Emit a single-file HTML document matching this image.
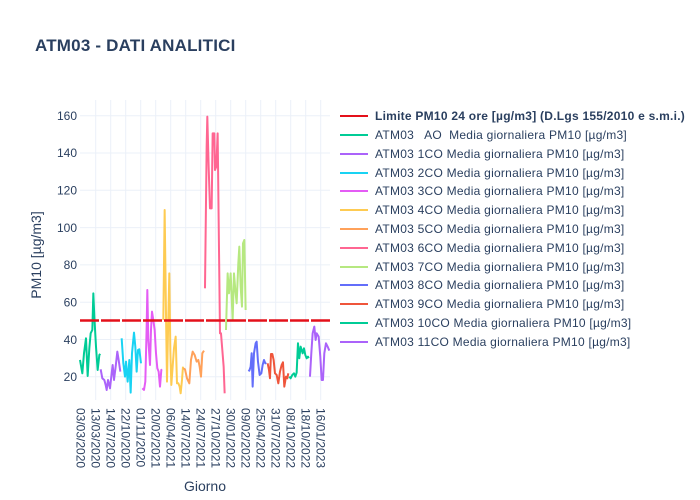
<!DOCTYPE html>
<html><head><meta charset="utf-8"><style>body{margin:0;background:#fff}svg{display:block;font-family:"Liberation Sans",sans-serif}</style></head>
<body>
<svg width="700" height="500" xmlns="http://www.w3.org/2000/svg">
<rect width="700" height="500" fill="#fff"/>
<text x="35" y="51" font-size="17" font-weight="bold" fill="#2a3f5f" letter-spacing="0.2">ATM03 - DATI ANALITICI</text>
<g stroke="#ebf0f8" stroke-width="1">
<line x1="80" x2="330" y1="115.7" y2="115.7"/><line x1="80" x2="330" y1="153" y2="153"/><line x1="80" x2="330" y1="190.3" y2="190.3"/><line x1="80" x2="330" y1="227.6" y2="227.6"/><line x1="80" x2="330" y1="264.9" y2="264.9"/><line x1="80" x2="330" y1="302.2" y2="302.2"/><line x1="80" x2="330" y1="339.5" y2="339.5"/><line x1="80" x2="330" y1="376.7" y2="376.7"/>
<line x1="95.7" x2="95.7" y1="100" y2="400"/><line x1="110.7" x2="110.7" y1="100" y2="400"/><line x1="125.7" x2="125.7" y1="100" y2="400"/><line x1="140.7" x2="140.7" y1="100" y2="400"/><line x1="155.7" x2="155.7" y1="100" y2="400"/><line x1="170.7" x2="170.7" y1="100" y2="400"/><line x1="185.7" x2="185.7" y1="100" y2="400"/><line x1="200.7" x2="200.7" y1="100" y2="400"/><line x1="215.7" x2="215.7" y1="100" y2="400"/><line x1="230.7" x2="230.7" y1="100" y2="400"/><line x1="245.7" x2="245.7" y1="100" y2="400"/><line x1="260.7" x2="260.7" y1="100" y2="400"/><line x1="275.7" x2="275.7" y1="100" y2="400"/><line x1="290.7" x2="290.7" y1="100" y2="400"/><line x1="305.7" x2="305.7" y1="100" y2="400"/><line x1="320.7" x2="320.7" y1="100" y2="400"/>
</g>
<g font-size="12" fill="#2a3f5f" text-anchor="end">
<text x="77" y="120">160</text><text x="77" y="157">140</text><text x="77" y="194.5">120</text><text x="77" y="232">100</text><text x="77" y="269">80</text><text x="77" y="306.5">60</text><text x="77" y="344">40</text><text x="77" y="381">20</text>
</g>
<text transform="translate(41,255) rotate(-90)" font-size="14" fill="#2a3f5f" text-anchor="middle">PM10 [µg/m3]</text>
<text x="205" y="491" font-size="14" fill="#2a3f5f" text-anchor="middle">Giorno</text>
<g font-size="12" fill="#2a3f5f" dominant-baseline="central">
<text transform="translate(80.7,408) rotate(90)">03/03/2020</text><text transform="translate(95.7,408) rotate(90)">13/03/2020</text><text transform="translate(110.7,408) rotate(90)">14/07/2020</text><text transform="translate(125.7,408) rotate(90)">22/10/2020</text><text transform="translate(140.7,408) rotate(90)">01/11/2020</text><text transform="translate(155.7,408) rotate(90)">20/02/2021</text><text transform="translate(170.7,408) rotate(90)">06/04/2021</text><text transform="translate(185.7,408) rotate(90)">14/07/2021</text><text transform="translate(200.7,408) rotate(90)">24/07/2021</text><text transform="translate(215.7,408) rotate(90)">27/10/2021</text><text transform="translate(230.7,408) rotate(90)">30/01/2022</text><text transform="translate(245.7,408) rotate(90)">09/02/2022</text><text transform="translate(260.7,408) rotate(90)">25/04/2022</text><text transform="translate(275.7,408) rotate(90)">31/07/2022</text><text transform="translate(290.7,408) rotate(90)">08/10/2022</text><text transform="translate(305.7,408) rotate(90)">18/10/2022</text><text transform="translate(320.7,408) rotate(90)">16/01/2023</text>
</g>
<g transform="translate(60,100) scale(0.3333)" fill="none" stroke-width="6" stroke-linejoin="round">
<polyline stroke="#00cc96" points="60,780 67,820 72,760 78,715 83,828 88,745 92,700 97,690 100,580 103,650 108,740 113,810 118,765 121,762"/>
<polyline stroke="#ab63fa" points="122,808 127,835 133,840 137,855 140,870 144,840 150,865 155,820 158,795 162,840 167,800 172,755 176,780 181,815"/>
<polyline stroke="#19d3f3" points="185,715 190,790 195,830 198,785 203,845 208,780 212,878 216,760 222,698 226,740 230,815 234,750 238,748 243,790"/>
<polyline stroke="#e45cf5" points="247,865 252,870 256,845 260,680 262,570 265,720 270,795 273,690 276,635 280,660 284,690 288,760 292,805 296,815 300,860 304,810 306,808"/>
<polyline stroke="#FECB52" points="310,660 314,330 318,640 321,845 324,700 328,520 331,750 334,855 338,800 342,745 347,710 351,850 355,850 359,860 362,880 366,840 369,800"/>
<polyline stroke="#FFA15A" points="370,805 375,808 381,835 388,850 393,780 398,755 404,765 410,785 415,780 419,800 423,830 427,760 432,752"/>
<polyline stroke="#FF6692" points="435,565 440,140 442,50 446,200 450,325 455,325 458,100 463,100 465,210 469,200 473,100 476,360 480,700 483,700 487,750 491,800 494,880"/>
<polyline stroke="#B6E880" points="498,690 503,520 507,580 512,520 515,590 518,660 522,520 526,570 530,610 535,490 538,440 542,560 546,620 549,430 553,420 557,630"/>
<polyline stroke="#636efa" points="565,810 568,812 572,800 575,760 578,860 582,760 587,730 590,725 594,785 599,825 604,820 608,795 612,780 616,790 619,788"/>
<polyline stroke="#EF553B" points="623,790 627,810 630,835 633,762 637,762 641,780 645,820 650,825 655,850 660,815 665,795 669,787 673,860 678,830 682,835 685,820"/>
<polyline stroke="#00cc96" points="688,830 692,835 697,825 702,820 706,830 710,818 714,730 718,775 722,740 728,760 732,745 736,765 740,775 744,770 746,775"/>
<polyline stroke="#ab63fa" points="750,830 754,760 758,700 763,680 767,720 770,700 776,710 781,770 785,840 789,840 793,760 798,730 803,740 808,752"/>
</g>
<line x1="80" x2="330" y1="320.5" y2="320.5" stroke="#e4101a" stroke-width="2.5" stroke-dasharray="19,2"/>
<g font-size="12" fill="#2a3f5f" stroke-width="2" letter-spacing="0.25">
<line x1="340" x2="368" y1="116" y2="116" stroke="#e4101a"/><text x="375" y="120" font-weight="bold">Limite PM10 24 ore [µg/m3] (D.Lgs 155/2010 e s.m.i.)</text>
<line x1="340" x2="368" y1="135" y2="135" stroke="#00cc96"/><text x="375" y="139" xml:space="preserve">ATM03   AO  Media giornaliera PM10 [µg/m3]</text>
<line x1="340" x2="368" y1="154" y2="154" stroke="#ab63fa"/><text x="375" y="158">ATM03 1CO Media giornaliera PM10 [µg/m3]</text>
<line x1="340" x2="368" y1="173" y2="173" stroke="#19d3f3"/><text x="375" y="177">ATM03 2CO Media giornaliera PM10 [µg/m3]</text>
<line x1="340" x2="368" y1="191" y2="191" stroke="#e45cf5"/><text x="375" y="195">ATM03 3CO Media giornaliera PM10 [µg/m3]</text>
<line x1="340" x2="368" y1="210" y2="210" stroke="#FECB52"/><text x="375" y="214">ATM03 4CO Media giornaliera PM10 [µg/m3]</text>
<line x1="340" x2="368" y1="229" y2="229" stroke="#FFA15A"/><text x="375" y="233">ATM03 5CO Media giornaliera PM10 [µg/m3]</text>
<line x1="340" x2="368" y1="248" y2="248" stroke="#FF6692"/><text x="375" y="252">ATM03 6CO Media giornaliera PM10 [µg/m3]</text>
<line x1="340" x2="368" y1="267" y2="267" stroke="#B6E880"/><text x="375" y="271">ATM03 7CO Media giornaliera PM10 [µg/m3]</text>
<line x1="340" x2="368" y1="285" y2="285" stroke="#636efa"/><text x="375" y="289">ATM03 8CO Media giornaliera PM10 [µg/m3]</text>
<line x1="340" x2="368" y1="304" y2="304" stroke="#EF553B"/><text x="375" y="308">ATM03 9CO Media giornaliera PM10 [µg/m3]</text>
<line x1="340" x2="368" y1="323" y2="323" stroke="#00cc96"/><text x="375" y="327">ATM03 10CO Media giornaliera PM10 [µg/m3]</text>
<line x1="340" x2="368" y1="342" y2="342" stroke="#ab63fa"/><text x="375" y="346">ATM03 11CO Media giornaliera PM10 [µg/m3]</text>
</g>
</svg>
</body></html>
